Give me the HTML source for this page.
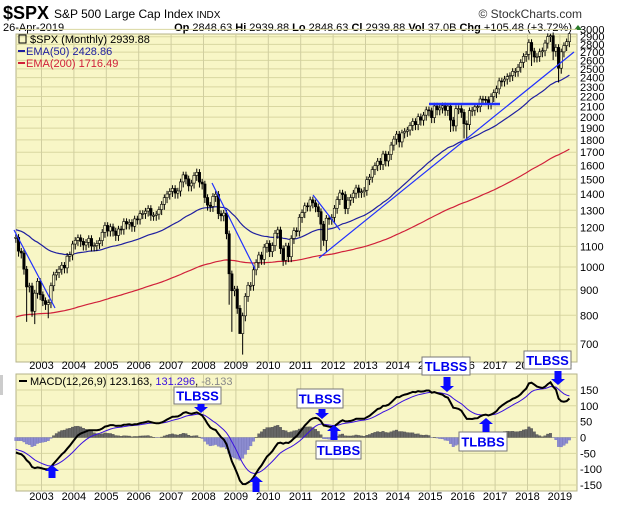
<!DOCTYPE html>
<html><head><meta charset="utf-8">
<style>
body{margin:0;background:#fff;width:620px;height:507px;overflow:hidden;font-family:"Liberation Sans",sans-serif;}
svg{display:block}
text{font-family:"Liberation Sans",sans-serif;}
</style></head>
<body>
<svg id="c" width="620" height="507" viewBox="0 0 620 507">
  <text x="3" y="19" font-size="18" font-weight="bold">$SPX</text>
  <text x="54" y="18" font-size="12">S&amp;P 500 Large Cap Index <tspan font-size="10">INDX</tspan></text>
  <text x="582" y="18" font-size="12" text-anchor="end" fill="#333">© StockCharts.com</text>
  <text x="3" y="31" font-size="11">26-Apr-2019</text>
  <text x="572" y="31" font-size="11" text-anchor="end"><tspan font-weight="bold">Op</tspan> 2848.63 <tspan font-weight="bold">Hi</tspan> 2939.88 <tspan font-weight="bold">Lo</tspan> 2848.63 <tspan font-weight="bold">Cl</tspan> 2939.88 <tspan font-weight="bold">Vol</tspan> 37.0B <tspan font-weight="bold">Chg</tspan> +105.48 (+3.72%)</text>
  <polygon points="574,30 578,25 582,30" fill="#2a7a2a"/>
  <g id="price"></g>
  <g id="yrs"></g>
  <g id="macd"></g>
  <rect x="0" y="375" width="3" height="20" fill="#ccc"/>
</svg>
<script>
const closes=[1147,1076,1067,990,912,916,815,886,936,880,
856,841,848,917,964,975,990,1008,996,1051,1058,1112,
1131,1145,1126,1107,1121,1141,1102,1104,1115,1130,1174,1212,
1181,1204,1181,1157,1192,1191,1234,1220,1229,1207,1249,1248,
1280,1281,1295,1311,1270,1270,1277,1304,1336,1378,1401,1418,
1438,1407,1421,1482,1531,1503,1455,1474,1527,1549,1481,1468,
1379,1331,1323,1386,1400,1280,1267,1283,1166,969,896,903,
826,735,798,873,919,919,987,1021,1057,1036,1096,1115,
1074,1104,1169,1187,1089,1031,1102,1049,1141,1183,1181,1258,
1286,1327,1326,1364,1345,1321,1292,1219,1131,1253,1247,1258,
1312,1366,1408,1398,1310,1362,1379,1407,1441,1412,1416,1426,
1498,1515,1569,1598,1631,1606,1686,1633,1682,1757,1806,1848,
1783,1859,1872,1884,1924,1960,1931,2003,1972,2018,2068,2059,
1995,2105,2068,2086,2107,2063,2104,1972,1920,2079,2080,2044,
1940,1932,2060,2065,2097,2099,2174,2171,2168,2126,2199,2239,
2279,2364,2363,2384,2412,2423,2470,2472,2519,2575,2648,2674,
2824,2714,2641,2648,2705,2718,2816,2902,2914,2712,2760,2507,
2704,2784,2834,2940];
const lowOverrides={'2002-7':776,'2002-10':768,'2003-3':789,'2008-10':840,'2008-11':741,'2009-2':741,'2009-3':667,'2010-7':1011,'2011-8':1077,'2011-10':1074,'2015-8':1867,'2016-1':1812,'2016-2':1810,'2018-2':2533,'2018-10':2603,'2018-12':2347};
const highOverrides={'2007-10':1576,'2018-9':2941,'2019-4':2940};
const priceTicks=[700,800,900,1000,1100,1200,1300,1400,1500,1600,1700,1800,1900,2000,2100,2200,2300,2400,2500,2600,2700,2800,2900,3000];
const years=[2003,2004,2005,2006,2007,2008,2009,2010,2011,2012,2013,2014,2015,2016,2017,2018,2019];
const macdTicks=[150,100,50,0,-50,-100,-150];
const startYear=2002, startMonth=3;

const NS='http://www.w3.org/2000/svg';
function el(tag,attrs,parent){const e=document.createElementNS(NS,tag);for(const k in attrs)e.setAttribute(k,attrs[k]);parent.appendChild(e);return e;}
const L=16,R=577;
const xOf=t=>41.5+(t-2003)*32.4;
const xIdx=i=>xOf(startYear+(startMonth-1+i)/12+1/24);
const yP=v=>267-498*Math.log10(v/1000);
const yM=v=>437.5-v*0.317;
const P=document.getElementById('price'),M=document.getElementById('macd'),Y=document.getElementById('yrs');

function panel(g,top,bot,ticks,yf,nm){
  const bg=el('rect',{x:L,y:top,width:R-L,height:bot-top,fill:'#f8f6c6',stroke:'#b5b38a'},g);
  
  
  ticks.forEach(v=>{const y=yf(v);
    const ln=el('line',{x1:L,x2:R,y1:y,y2:y,stroke:'#d9d7a0','stroke-width':1},g);
    
    
    const t=el('text',{x:R+3,y:y+4,'font-size':11},g);t.textContent=v;
    
    });
  years.forEach(yr=>{const x=xOf(yr);
    const ln=el('line',{x1:x,x2:x,y1:top,y2:bot,stroke:'#d0cea0','stroke-width':1},g);
    
    });
}
panel(P,34,362,priceTicks,yP,'price');
years.forEach(yr=>{[369,500].forEach(y=>{const t=el('text',{x:xOf(yr),y:y,'font-size':11,'text-anchor':'middle'},Y);t.textContent=yr;
  
  });});
panel(M,374,491,macdTicks,yM,'macd');

function ema(arr,n,seed){const a=2/(n+1);let e=seed;return arr.map(v=>(e=e+a*(v-e)));}
const e50=ema(closes,50,1190),e200=ema(closes,200,790);
function poly(vals,yf,color,w,g,name){const pts=vals.map((v,i)=>xIdx(i).toFixed(1)+','+yf(v).toFixed(1)).join(' ');
  const p=el('polyline',{points:pts,fill:'none',stroke:color,'stroke-width':w},g);
  
  return p;}
poly(e200,yP,'#d0203a',1.2,P,'ema200-line');
poly(e50,yP,'#2020a0',1.2,P,'ema50-line');

closes.forEach((c,i)=>{
  const o=i?closes[i-1]:c;
  const yr=startYear+Math.floor((startMonth-1+i)/12),mo=(startMonth-1+i)%12+1,key=yr+'-'+mo;
  const lo=lowOverrides[key]||Math.min(o,c)*0.975,hi=highOverrides[key]||Math.max(o,c)*1.015;
  const x=xIdx(i);
  const w=el('line',{x1:x,x2:x,y1:yP(hi),y2:yP(lo),stroke:'#000','stroke-width':1},P);
  
  
  const t=yP(Math.max(o,c)),b=yP(Math.min(o,c));
  const r=el('rect',{x:x-1.2,y:t,width:2.4,height:Math.max(1,b-t),fill:c<o?'#000':'#f8f6c6',stroke:'#000','stroke-width':0.6},P);
  
  
});

[[14,230,55,308,1.2],[212,183,255,269,1.2],[313,195,340,230,1.2],[319,258,574,52,1.2],[429,104,500,104,2.5]].forEach(s=>{
  const l=el('line',{x1:s[0],y1:s[1],x2:s[2],y2:s[3],stroke:'#2030ff','stroke-width':s[4]},P);
  
  
});

[['$SPX (Monthly) 2939.88','#000',43],['EMA(50) 2428.86','#2020a0',55],['EMA(200) 1716.49','#d0203a',67]].forEach((d,k)=>{
  const t=el('text',{x:k?26:30,y:d[2],'font-size':11,fill:d[1]},P);t.textContent=d[0];
  
  
  if(k){const s=el('line',{x1:18,x2:25,y1:d[2]-4,y2:d[2]-4,stroke:d[1],'stroke-width':2},P);
    
    }
});
el('rect',{x:19,y:35,width:7,height:8,fill:'none',stroke:'#000'},P);

const e12=ema(closes,12,1160),e26=ema(closes,26,1210);
const macd=e12.map((v,i)=>v-e26[i]);
const sig=ema(macd,9,-35);
macd.forEach((m,i)=>{const h=m-sig[i];const y0=yM(0),y1=yM(h);
  const b=el('rect',{x:xIdx(i)-1.3,y:Math.min(y0,y1),width:2.6,height:Math.abs(y1-y0),fill:h>=0?'#666':'#8c8cd0',stroke:h>=0?'#444':'#6a6ab8','stroke-width':0.3},M);
  
  });
poly(sig,yM,'#3a10e0',1,M,'macd-signal-line');
poly(macd,yM,'#000',2,M,'macd-line');
const mt=el('text',{x:30,y:385,'font-size':11},M);
mt.innerHTML='MACD(12,26,9) 123.163, <tspan fill="#3a10e0">131.296</tspan>, <tspan fill="#888">-8.133</tspan>';


const ms=el('line',{x1:19,x2:27,y1:381,y2:381,stroke:'#000','stroke-width':2},M);



const boxes=[['TLBSS',174,387,47,17],['TLBSS',297,389,46,19],['TLBBS',316,441,45,18],['TLBSS',422,357,48,18],['TLBBS',459,432,48,19],['TLBSS',524,351,47,18]];
boxes.forEach(b=>{
  const r=el('rect',{x:b[1],y:b[2],width:b[3],height:b[4],fill:'#fff',stroke:'#777','stroke-width':1},M);
  
  
  const t=el('text',{x:b[1]+b[3]/2,y:b[2]+b[4]/2+5,'font-size':13,'font-weight':'bold',fill:'#0000ee','text-anchor':'middle'},M);t.textContent=b[0];
  
  
});
const arrows=[[201,404,413,'d'],[322,409,419,'d'],[447,377,392,'d'],[558,371,385,'d'],[52,465,478,'u'],[256,476,492,'u'],[334,425,440,'u'],[486,418,432,'u']];
arrows.forEach(a=>{const x=a[0],t=a[1],b=a[2];let pts;
  if(a[3]==='d'){const h=b-6;pts=[[x-3.5,t],[x+3.5,t],[x+3.5,h],[x+7,h],[x,b],[x-7,h],[x-3.5,h]];}
  else{const h=t+6;pts=[[x,t],[x+7,h],[x+3.5,h],[x+3.5,b],[x-3.5,b],[x-3.5,h],[x-7,h]];}
  const p=el('polygon',{points:pts.map(q=>q.join(',')).join(' '),fill:'#0a0aff'},M);
  
  });
</script>
</body></html>
